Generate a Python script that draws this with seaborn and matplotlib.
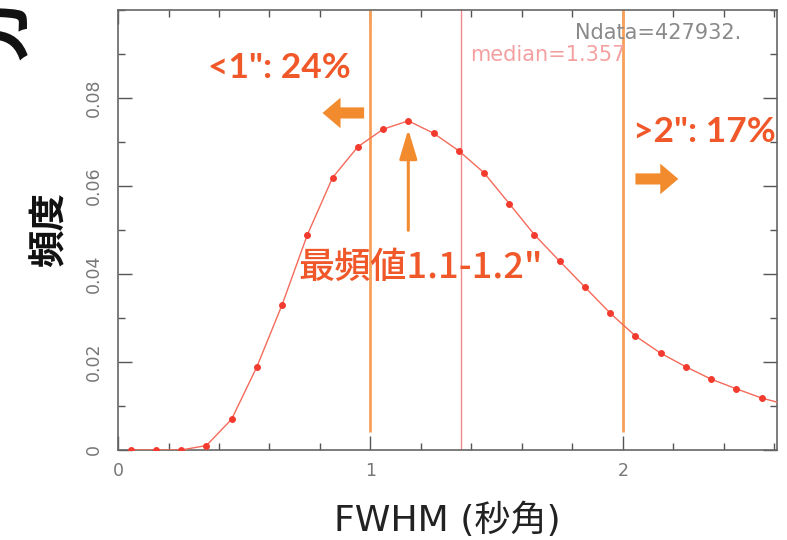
import matplotlib
matplotlib.use("Agg")
import matplotlib.pyplot as plt
import seaborn as sns
import pandas as pd
import numpy as np
from matplotlib.ticker import MultipleLocator, FixedLocator

# ---- data ----
fwhm = [0.05, 0.15, 0.25, 0.35, 0.45, 0.55, 0.65, 0.75, 0.85, 0.95, 1.05, 1.15,
        1.25, 1.35, 1.45, 1.55, 1.65, 1.75, 1.85, 1.95, 2.05, 2.15, 2.25, 2.35,
        2.45, 2.55, 2.65]
freq = [0.0, 0.0, 0.0, 0.001, 0.0070, 0.0189, 0.0330, 0.0489, 0.0619, 0.0689,
        0.0729, 0.0748, 0.0720, 0.0680, 0.0630, 0.0560, 0.0489, 0.0429, 0.0370,
        0.0311, 0.0259, 0.0220, 0.0189, 0.0161, 0.0139, 0.0118, 0.0103]
cut_lines = [1.0, 2.0]
median = 1.357
ndata = 427932
xticks_major = [0, 1, 2]
yticks_major = [0, 0.02, 0.04, 0.06, 0.08]
ytick_labels = ["0", "0.02", "0.04", "0.06", "0.08"]

df = pd.DataFrame({"FWHM": fwhm, "freq": freq})

sns.set_theme(style="ticks")
plt.rcParams["font.family"] = ["Lato", "Noto Sans CJK JP", "DejaVu Sans"]

fig = plt.figure(figsize=(7.87, 5.40), dpi=100)
ax = fig.add_axes([0.150, 0.1667, 0.837, 0.8148])

RED = "#f23b2e"
ORANGE = "#f28a2e"
TXT = "#f0582a"
LINE_OR = "#f7a05a"
MED = "#f28a8a"

sns.lineplot(data=df, x="FWHM", y="freq", ax=ax, color="#f56a5a", lw=1.0,
             marker="o", markersize=4.2, markerfacecolor=RED,
             markeredgecolor=RED, zorder=3)

for c in cut_lines:
    ax.vlines(c, 0.004, 0.1, color=LINE_OR, lw=2.0, zorder=2)
ax.axvline(median, color=MED, lw=1.0, zorder=2)

ax.set_xlim(0, 2.61)
ax.set_ylim(0, 0.1)

ax.xaxis.set_major_locator(FixedLocator(xticks_major))
ax.xaxis.set_minor_locator(MultipleLocator(0.2))
ax.yaxis.set_major_locator(FixedLocator(yticks_major))
ax.yaxis.set_minor_locator(MultipleLocator(0.01))
ax.set_yticklabels(ytick_labels, rotation=90, va="center")
ax.tick_params(which="both", direction="in", top=True, right=True,
               color="#555555", labelcolor="#777777", labelsize=12.5,
               width=1.0)
ax.tick_params(which="major", length=10)
ax.tick_params(which="minor", length=5)
ax.tick_params(axis="x", which="major", pad=9)
ax.tick_params(axis="y", which="major", pad=11)
for lab in ax.get_xticklabels() + ax.get_yticklabels():
    lab.set_family("DejaVu Sans")
for s in ax.spines.values():
    s.set_color("#666666")
    s.set_linewidth(1.2)

ax.set_xlabel("FWHM (秒角)", fontsize=26, color="#222222", labelpad=16,
              family=["DejaVu Sans", "Noto Sans CJK JP"])
ax.set_ylabel("頻度", fontsize=27, color="#111111", fontweight="bold",
              labelpad=12, family=["Noto Sans CJK JP", "DejaVu Sans"])

# annotations
ax.text(0.64, 0.0868, '<1": 24%', color=TXT, fontsize=25.5, fontweight="bold",
        ha="center", va="center")
ax.text(2.04, 0.0722, '>2": 17%', color=TXT, fontsize=25.5, fontweight="bold",
        ha="left", va="center")
ax.text(1.20, 0.0414, '最頻値1.1-1.2"', color=TXT, fontsize=26,
        fontweight="medium", ha="center", va="center",
        family=["Noto Sans CJK JP", "Lato"])
ax.text(1.81, 0.0948, "Ndata=427932.", color="#8a8a8a", fontsize=15,
        ha="left", va="center", family="DejaVu Sans")
ax.text(1.395, 0.0897, "median=1.357", color="#f5a0a0", fontsize=15,
        ha="left", va="center", family="DejaVu Sans")

ax.annotate("", xy=(1.15, 0.0735), xytext=(1.15, 0.0493),
            arrowprops=dict(arrowstyle="-|>,head_width=0.27,head_length=0.9",
                            mutation_scale=20, color=ORANGE, lw=2.2),
            zorder=4)
ax.annotate("", xy=(0.81, 0.0766), xytext=(0.975, 0.0766),
            arrowprops=dict(arrowstyle="simple,head_width=1.1,head_length=0.65,tail_width=0.4",
                            mutation_scale=20, color=ORANGE, lw=0,
                            shrinkA=0, shrinkB=0), zorder=4)
ax.annotate("", xy=(2.22, 0.0616), xytext=(2.05, 0.0616),
            arrowprops=dict(arrowstyle="simple,head_width=1.1,head_length=0.65,tail_width=0.4",
                            mutation_scale=20, color=ORANGE, lw=0,
                            shrinkA=0, shrinkB=0), zorder=4)

# cropped title glyph in the top-left corner
fig.text(0.046, 1.01, "分", rotation=90, fontsize=50, fontweight="bold",
         color="#111111", ha="right", va="top",
         family=["Noto Sans CJK JP", "DejaVu Sans"])

fig.savefig("out.png", dpi=100)
